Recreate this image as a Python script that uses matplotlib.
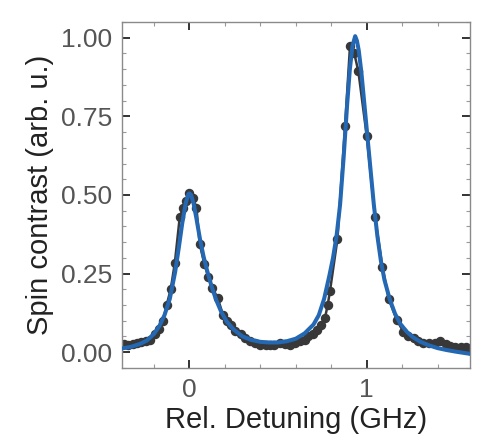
import matplotlib
matplotlib.use("Agg")
import matplotlib.pyplot as plt
from matplotlib.ticker import MultipleLocator

# measured points (GHz, arb. u.)
x_data = [-0.37, -0.345, -0.32, -0.295, -0.27, -0.245, -0.22, -0.195, -0.17, -0.148,
          -0.128, -0.105, -0.082, -0.054, -0.035, -0.018, 0.0, 0.02, 0.04, 0.058,
          0.085, 0.107, 0.13, 0.16, 0.19, 0.215, 0.237, 0.26, 0.29, 0.315,
          0.342, 0.37, 0.40, 0.43, 0.455, 0.48, 0.51, 0.54, 0.568, 0.595,
          0.624, 0.65, 0.671, 0.695, 0.718, 0.74, 0.765, 0.78, 0.793, 0.835,
          0.878, 0.906, 0.93, 0.953, 1.0, 1.047, 1.088, 1.125, 1.17, 1.207,
          1.235, 1.264, 1.29, 1.32, 1.35, 1.385, 1.414, 1.445, 1.47, 1.50,
          1.53, 1.56]
y_data = [0.025, 0.022, 0.027, 0.030, 0.033, 0.035, 0.040, 0.058, 0.075, 0.098,
          0.150, 0.200, 0.283, 0.430, 0.458, 0.482, 0.505, 0.490, 0.460, 0.345,
          0.280, 0.240, 0.205, 0.172, 0.118, 0.100, 0.085, 0.066, 0.057, 0.045,
          0.036, 0.030, 0.024, 0.022, 0.023, 0.022, 0.030, 0.025, 0.022, 0.028,
          0.035, 0.040, 0.050, 0.058, 0.070, 0.085, 0.110, 0.150, 0.195, 0.360,
          0.720, 0.975, 0.950, 0.893, 0.688, 0.430, 0.272, 0.168, 0.102, 0.065,
          0.052, 0.045, 0.035, 0.030, 0.028, 0.030, 0.036, 0.025, 0.020, 0.018,
          0.017, 0.016]

# fitted curve
x_fit = [-0.38, -0.33, -0.28, -0.24, -0.20, -0.17, -0.14, -0.11, -0.08, -0.06,
         -0.04, -0.02, -0.005, 0.0, 0.01, 0.025, 0.04, 0.06, 0.08, 0.10,
         0.125, 0.15, 0.18, 0.21, 0.25, 0.30, 0.35, 0.40, 0.45, 0.50,
         0.55, 0.60, 0.65, 0.70, 0.73, 0.76, 0.79, 0.81, 0.83, 0.85,
         0.87, 0.89, 0.905, 0.92, 0.935, 0.945, 0.955, 0.97, 0.985, 1.0,
         1.02, 1.04, 1.06, 1.08, 1.10, 1.13, 1.16, 1.19, 1.226, 1.26,
         1.30, 1.35, 1.40, 1.45, 1.50, 1.58]
y_fit = [0.012, 0.017, 0.026, 0.037, 0.058, 0.082, 0.118, 0.170, 0.255, 0.330,
         0.410, 0.475, 0.503, 0.505, 0.500, 0.470, 0.425, 0.360, 0.305, 0.260,
         0.210, 0.168, 0.128, 0.098, 0.072, 0.050, 0.039, 0.033, 0.031, 0.031,
         0.035, 0.043, 0.060, 0.088, 0.118, 0.170, 0.245, 0.300, 0.370, 0.470,
         0.620, 0.790, 0.900, 0.975, 1.005, 0.990, 0.960, 0.890, 0.800, 0.710,
         0.590, 0.470, 0.370, 0.290, 0.230, 0.168, 0.122, 0.090, 0.065, 0.048,
         0.034, 0.022, 0.013, 0.007, 0.002, -0.005]

plt.rcParams['font.family'] = ['Liberation Sans', 'DejaVu Sans']

fig = plt.figure(figsize=(4.88, 4.48), dpi=100)
ax = fig.add_axes([0.2506, 0.178, 0.7124, 0.7736])

ax.plot(x_data, y_data, color='#383838', lw=1.8, marker='o', ms=5.8, zorder=2)
ax.plot(x_fit, y_fit, color='#2468b4', lw=2.9, zorder=3)

ax.set_xlim(-0.378, 1.582)
ax.set_ylim(-0.051, 1.051)
ax.xaxis.set_major_locator(MultipleLocator(1))
ax.xaxis.set_minor_locator(MultipleLocator(0.2))
ax.yaxis.set_major_locator(MultipleLocator(0.25))
ax.yaxis.set_minor_locator(MultipleLocator(0.05))
ax.yaxis.set_major_formatter(matplotlib.ticker.FormatStrFormatter('%.2f'))

ax.tick_params(which='both', direction='in', top=True, right=True)
ax.tick_params(which='major', length=5.5, width=1.4, color='#333333',
               labelsize=19, labelcolor='#555555', pad=7)
ax.tick_params(which='minor', length=3, width=0.8, color='#999999')
for s in ax.spines.values():
    s.set_color('#8a8a8a')
    s.set_linewidth(1.0)

ax.set_xlabel("Rel. Detuning (GHz)", fontsize=21, color='#222222', labelpad=3)
ax.set_ylabel("Spin contrast (arb. u.)", fontsize=21, color='#222222', labelpad=5)

fig.savefig("out.png", dpi=100)
